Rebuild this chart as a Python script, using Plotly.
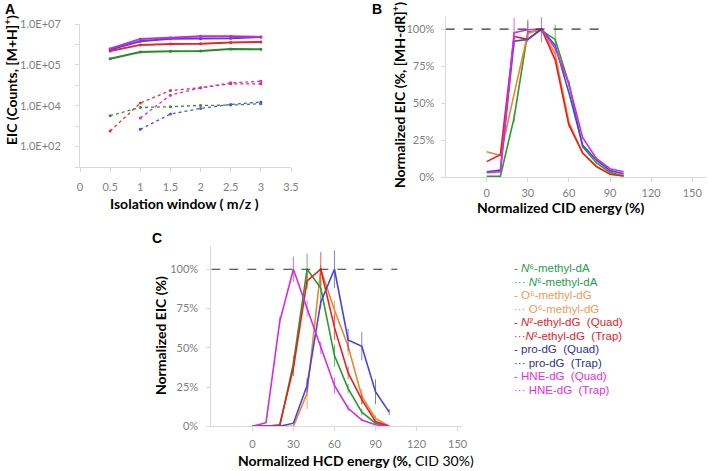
import plotly.graph_objects as go

W, H = 708, 471

# ---------------- Panel A data ----------------
iso_window = [0.5, 1, 1.5, 2, 2.5, 3]
a_mag_solid = [6.2e5, 1.86e6, 2.15e6, 2.48e6, 2.48e6, 2.32e6]
a_blue_solid = [5.6e5, 1.42e6, 1.92e6, 1.92e6, 1.99e6, 2.32e6]
a_red_solid = [4.8e5, 9.5e5, 1.06e6, 1.09e6, 1.26e6, 1.32e6]
a_green_solid = [2.0e5, 4.3e5, 4.6e5, 4.8e5, 6.0e5, 5.8e5]
a_red_dot = [58, 1340, 5570, 7550, 11800, 11800]
a_mag_dot = [None, 248, 3290, 7550, 13200, 15800]
a_green_dot = [325, 826, 893, 1035, 1070, 1250]
a_blue_dot = [None, 70, 389, 738, 1155, 1500]
a_tickvals = [1e0, 1e1, 1e2, 1e3, 1e4, 1e5, 1e6, 1e7]
a_ticktext = ["", "1.0E+02", "", "1.0E+04", "", "1.0E+05", "", "1.0E+07"]
a_xticks = [0, 0.5, 1, 1.5, 2, 2.5, 3, 3.5]

# ---------------- Panel B data ----------------
cid_energy = [0, 10, 20, 30, 40, 50, 60, 70, 80, 90, 100]
b_green = [0.005, 0.005, 0.40, 0.98, 0.99, 0.93, 0.63, 0.205, 0.097, 0.030, 0.009]
b_orange = [0.17, 0.146, 0.56, 0.97, 1.0, 0.83, 0.37, 0.16, 0.074, 0.020, 0.007]
b_red = [0.104, 0.151, 0.95, 0.93, 1.0, 0.79, 0.35, 0.164, 0.070, 0.018, 0.007]
b_blue = [0.036, 0.047, 0.917, 0.93, 1.0, 0.89, 0.57, 0.216, 0.115, 0.043, 0.022]
b_magenta = [0.029, 0.036, 0.975, 0.995, 1.0, 0.87, 0.63, 0.268, 0.126, 0.056, 0.036]
b_green_err = [0, 0, 0.03, 0.07, 0.02, 0.10, 0.02, 0.01, 0.01, 0, 0]
b_mag_err = [0, 0, 0.10, 0.07, 0.09, 0.02, 0.02, 0.01, 0.01, 0, 0]

# ---------------- Panel C data ----------------
hcd_energy = [0, 10, 20, 30, 40, 50, 60, 70, 80, 90, 100]
c_magenta = [0, 0.023, 0.667, 1.0, 0.75, 0.50, 0.26, 0.115, 0.04, 0.01, 0]
c_green = [0, 0, 0, 0.40, 1.0, 0.88, 0.45, 0.24, 0.09, 0.02, 0]
c_red = [0, 0, 0.01, 0.37, 0.926, 1.0, 0.63, 0.34, 0.17, 0.03, 0]
c_orange = [0, 0, 0, 0, 0.21, 1.0, 0.74, 0.51, 0.19, 0.05, 0]
c_blue = [0, 0, 0, 0.02, 0.26, 0.79, 1.0, 0.55, 0.51, 0.22, 0.09]
c_mag_err = [0, 0, 0.03, 0.08, 0.05, 0.04, 0.05, 0.02, 0.01, 0, 0]
c_green_err = [0, 0, 0, 0.05, 0.10, 0.05, 0.07, 0.03, 0.02, 0, 0]
c_red_err = [0, 0, 0, 0.05, 0.05, 0.11, 0.08, 0.04, 0.03, 0, 0]
c_orange_err = [0, 0, 0, 0, 0.10, 0.03, 0.06, 0.06, 0.05, 0.02, 0]
c_blue_err = [0, 0, 0, 0, 0.04, 0.04, 0.12, 0.07, 0.09, 0.08, 0.02]
pct_ticks = [0, 0.25, 0.5, 0.75, 1.0]
pct_text = ["0%", "25%", "50%", "75%", "100%"]
energy_ticks = [0, 30, 60, 90, 120, 150]

legend_labels = [
    "- <i>N</i>⁶-methyl-dA",
    "··· <i>N</i>⁶-methyl-dA",
    "- O⁶-methyl-dG",
    "··· O⁶-methyl-dG",
    "- <i>N</i>²-ethyl-dG  (Quad)",
    "···<i>N</i>²-ethyl-dG  (Trap)",
    "- pro-dG  (Quad)",
    "··· pro-dG  (Trap)",
    "- HNE-dG  (Quad)",
    "··· HNE-dG  (Trap)",
]
legend_colors = ["#22A04B", "#22A04B", "#F39A55", "#F39A55", "#E8202A", "#E8202A",
                 "#2E3192", "#2E3192", "#E62EE6", "#E62EE6"]

GREEN = "#2A9A2A"
ORANGE = "#E8872E"
RED = "#E8201E"
BLUE = "#4545DD"
MAGENTA = "#D52BE0"

fig = go.Figure()

def px_x(p):
    return p / W

def px_y(p):
    return 1 - p / H

# Panel A traces
for ys, col in [(a_green_solid, "#2A8A2A"), (a_red_solid, "#E02A2A"),
                (a_blue_solid, "#5A3BE8"), (a_mag_solid, "#C22BD8")]:
    fig.add_trace(go.Scatter(x=iso_window, y=ys, mode="lines+markers",
                             line=dict(color=col, width=2), marker=dict(size=3, color=col),
                             xaxis="x", yaxis="y", showlegend=False))
for ys, col in [(a_green_dot, "#2A9A2A"), (a_red_dot, "#E83030"),
                (a_blue_dot, "#5050E8"), (a_mag_dot, "#D52BE0")]:
    fig.add_trace(go.Scatter(x=iso_window, y=ys, mode="lines+markers",
                             line=dict(color=col, width=1.3, dash="dot"),
                             marker=dict(size=3, color=col),
                             xaxis="x", yaxis="y", showlegend=False, connectgaps=False))

# Panel B traces
for ys, col, err in [(b_green, GREEN, b_green_err), (b_orange, ORANGE, None),
                     (b_red, RED, None), (b_blue, BLUE, None), (b_magenta, MAGENTA, b_mag_err)]:
    fig.add_trace(go.Scatter(x=cid_energy, y=ys, mode="lines",
                             line=dict(color=col, width=1.6),
                             error_y=dict(type="data", array=err, visible=err is not None,
                                          color=col, thickness=0.7, width=0),
                             xaxis="x2", yaxis="y2", showlegend=False))

# Panel C traces
for ys, col, err in [(c_orange, ORANGE, c_orange_err), (c_green, GREEN, c_green_err),
                     (c_red, RED, c_red_err), (c_blue, BLUE, c_blue_err),
                     (c_magenta, MAGENTA, c_mag_err)]:
    fig.add_trace(go.Scatter(x=hcd_energy, y=ys, mode="lines",
                             line=dict(color=col, width=1.6),
                             error_y=dict(type="data", array=err, visible=True,
                                          color=col, thickness=0.7, width=0),
                             xaxis="x3", yaxis="y3", showlegend=False))

# dashed 100% reference lines
fig.add_shape(type="line", xref="x2", yref="y2", x0=-30, x1=88, y0=1, y1=1,
              line=dict(color="#333333", width=1.2, dash="dash"))
fig.add_shape(type="line", xref="x3", yref="y3", x0=-30, x1=106, y0=1, y1=1,
              line=dict(color="#333333", width=1.2, dash="dash"))

tickfont = dict(family="Lato, Open Sans, sans-serif", size=11, color="#7F7F7F")
axis_common = dict(showgrid=False, zeroline=False, showline=True, linecolor="#D9D9D9",
                   linewidth=1, ticks="outside", tickcolor="#D9D9D9", ticklen=4,
                   tickfont=tickfont, automargin=False)

fig.update_layout(
    template="none",
    width=W, height=H, margin=dict(l=0, r=0, t=0, b=0, pad=0),
    paper_bgcolor="white", plot_bgcolor="white", showlegend=False,
    xaxis=dict(domain=[px_x(80), px_x(291)], range=[0, 3.5], tickvals=a_xticks,
               anchor="y", ticklabelstandoff=6, **axis_common),
    yaxis=dict(domain=[px_y(167), px_y(24)], type="log", range=[0, 7],
               tickvals=a_tickvals, ticktext=a_ticktext, anchor="x",
               ticklabelstandoff=12, **axis_common),
    xaxis2=dict(domain=[px_x(445.6), px_x(705.9)], range=[-30, 160], tickvals=energy_ticks,
                anchor="y2", ticklabelstandoff=2, **axis_common),
    yaxis2=dict(domain=[px_y(177), px_y(17.2)], range=[0, 1.08], tickvals=pct_ticks,
                ticktext=pct_text, anchor="x2", ticklabelstandoff=4, **axis_common),
    xaxis3=dict(domain=[px_x(211.3), px_x(461.7)], range=[-30, 153], tickvals=energy_ticks,
                anchor="y3", ticklabelstandoff=3, **axis_common),
    yaxis3=dict(domain=[px_y(426.3), px_y(245.7)], range=[0, 1.15], tickvals=pct_ticks,
                ticktext=pct_text, anchor="x3", ticklabelstandoff=6, **axis_common),
)

title_font = dict(family="Lato, Open Sans, sans-serif", size=14, color="black")
ann = []

def add_text(text, x, y, font, angle=0, xanchor="center"):
    ann.append(dict(text=text, x=px_x(x), y=px_y(y), xref="paper", yref="paper",
                    showarrow=False, xanchor=xanchor, yanchor="middle", textangle=angle,
                    font=font))

letter_font = dict(family="Liberation Sans, Arial", size=14, color="black")
for t, x, y in [("A", 10, 9), ("B", 377, 9), ("C", 157, 238)]:
    add_text("<b>%s</b>" % t, x, y, letter_font)
add_text("<b>Isolation window ( m/z )</b>", 184, 203, title_font)
add_text("<b>EIC (Counts, [M+H]<sup>+</sup>)</b>", 11, 80, title_font, angle=-90)
add_text("<b>Normalized CID energy (%)</b>", 560, 207, title_font)
add_text("<b>Normalized EIC (%, [MH-dR]<sup>+</sup>)</b>", 399, 95, title_font, angle=-90)
add_text("<b>Normalized HCD energy (%,</b> CID 30%)", 356, 460, title_font)
add_text("<b>Normalized EIC (%)</b>", 160, 336, title_font, angle=-90)
for i, (lab, col) in enumerate(zip(legend_labels, legend_colors)):
    add_text(lab, 512, 268 + i * 13.5,
             dict(family="Liberation Sans, Arial", size=11.5, color=col), xanchor="left")
fig.update_layout(annotations=ann)

fig.write_html("out.html", config={"displayModeBar": False},
               post_script="document.body.style.margin='0';document.body.style.overflow='hidden';")
